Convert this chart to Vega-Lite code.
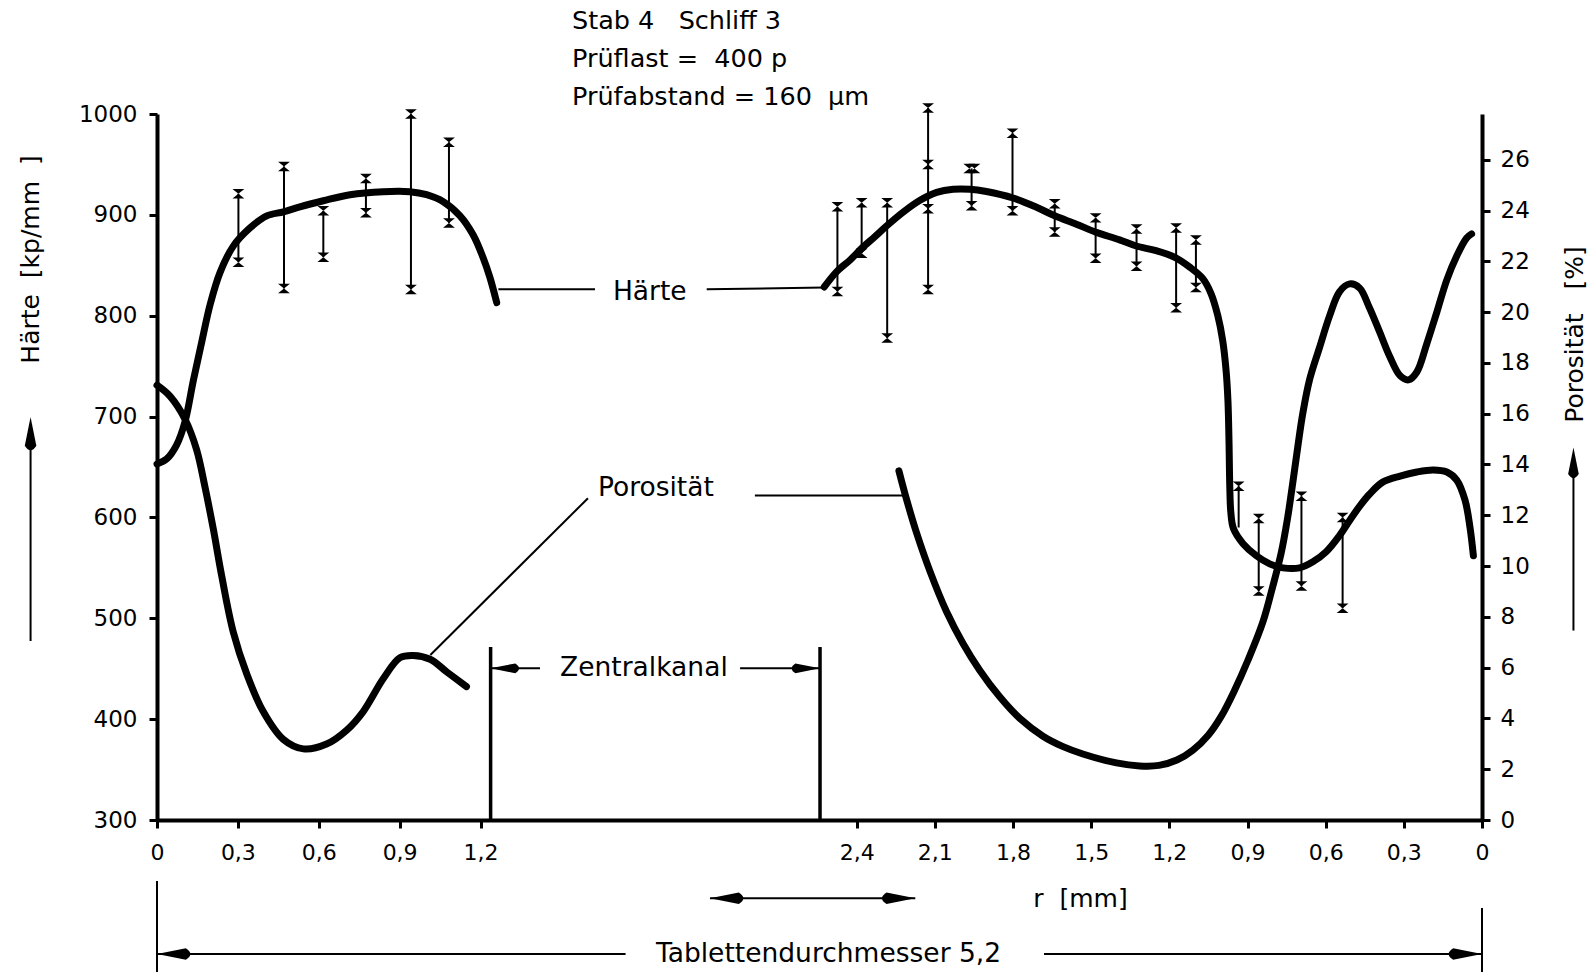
{
  "$schema": "https://vega.github.io/schema/vega-lite/v6.json",
  "width": 1325,
  "height": 706,
  "autosize": "none",
  "padding": {"left": 157, "top": 114, "right": 113, "bottom": 152},
  "background": "white",
  "config": {
    "view": {"stroke": null},
    "font": "DejaVu Sans",
    "text": {"font": "DejaVu Sans", "fontSize": 26, "color": "black"},
    "axis": {
      "grid": false,
      "domainColor": "black",
      "domainWidth": 4,
      "tickColor": "black",
      "tickWidth": 3,
      "tickSize": 8,
      "labelFont": "DejaVu Sans",
      "labelFontSize": 22,
      "labelColor": "black",
      "titleFont": "DejaVu Sans",
      "titleFontSize": 25,
      "titleFontWeight": "normal",
      "titleColor": "black"
    }
  },
  "title": {
    "text": ["Stab 4\u00a0\u00a0\u00a0Schliff 3", "Prüflast =\u00a0\u00a0400 p", "Prüfabstand = 160\u00a0\u00a0µm"],
    "anchor": "start",
    "frame": "group",
    "dx": 415,
    "offset": -7,
    "font": "DejaVu Sans",
    "fontSize": 25.5,
    "fontWeight": "normal",
    "lineHeight": 38,
    "color": "black"
  },
  "datasets": {
    "hcurve": [
      {"seg": "L", "x": 0.0, "H": 653}, {"seg": "L", "x": 0.036, "H": 658}, {"seg": "L", "x": 0.073, "H": 672},
      {"seg": "L", "x": 0.104, "H": 695}, {"seg": "L", "x": 0.135, "H": 736}, {"seg": "L", "x": 0.166, "H": 774},
      {"seg": "L", "x": 0.197, "H": 811}, {"seg": "L", "x": 0.234, "H": 843}, {"seg": "L", "x": 0.283, "H": 869},
      {"seg": "L", "x": 0.345, "H": 887}, {"seg": "L", "x": 0.407, "H": 899}, {"seg": "L", "x": 0.469, "H": 903},
      {"seg": "L", "x": 0.53, "H": 908}, {"seg": "L", "x": 0.617, "H": 914}, {"seg": "L", "x": 0.716, "H": 920},
      {"seg": "L", "x": 0.839, "H": 923}, {"seg": "L", "x": 0.938, "H": 923}, {"seg": "L", "x": 1.0, "H": 920},
      {"seg": "L", "x": 1.062, "H": 913}, {"seg": "L", "x": 1.124, "H": 899}, {"seg": "L", "x": 1.173, "H": 880},
      {"seg": "L", "x": 1.212, "H": 857}, {"seg": "L", "x": 1.24, "H": 838}, {"seg": "L", "x": 1.269, "H": 813},
      {"seg": "R", "x": 2.662, "H": 828.5}, {"seg": "R", "x": 2.715, "H": 843.7}, {"seg": "R", "x": 2.772, "H": 855.3},
      {"seg": "R", "x": 2.819, "H": 866.8}, {"seg": "R", "x": 2.87, "H": 878.4}, {"seg": "R", "x": 2.915, "H": 889},
      {"seg": "R", "x": 2.979, "H": 902.8}, {"seg": "R", "x": 3.043, "H": 914.4}, {"seg": "R", "x": 3.107, "H": 922.3},
      {"seg": "R", "x": 3.17, "H": 925.4}, {"seg": "R", "x": 3.234, "H": 925.4}, {"seg": "R", "x": 3.298, "H": 923.1},
      {"seg": "R", "x": 3.4, "H": 916.7}, {"seg": "R", "x": 3.49, "H": 907.5}, {"seg": "R", "x": 3.56, "H": 899.1},
      {"seg": "R", "x": 3.643, "H": 890.8}, {"seg": "R", "x": 3.716, "H": 883}, {"seg": "R", "x": 3.809, "H": 875.2},
      {"seg": "R", "x": 3.873, "H": 869.1}, {"seg": "R", "x": 3.949, "H": 864.5}, {"seg": "R", "x": 4.023, "H": 857.6},
      {"seg": "R", "x": 4.077, "H": 848.4}, {"seg": "R", "x": 4.128, "H": 837}, {"seg": "R", "x": 4.16, "H": 822},
      {"seg": "R", "x": 4.186, "H": 800}, {"seg": "R", "x": 4.205, "H": 775}, {"seg": "R", "x": 4.218, "H": 745},
      {"seg": "R", "x": 4.225, "H": 715}, {"seg": "R", "x": 4.229, "H": 675}, {"seg": "R", "x": 4.232, "H": 630},
      {"seg": "R", "x": 4.236, "H": 605}, {"seg": "R", "x": 4.246, "H": 589}, {"seg": "R", "x": 4.283, "H": 574},
      {"seg": "R", "x": 4.334, "H": 562}, {"seg": "R", "x": 4.385, "H": 554}, {"seg": "R", "x": 4.436, "H": 550},
      {"seg": "R", "x": 4.5, "H": 550}, {"seg": "R", "x": 4.551, "H": 556}, {"seg": "R", "x": 4.602, "H": 566},
      {"seg": "R", "x": 4.653, "H": 582}, {"seg": "R", "x": 4.692, "H": 597}, {"seg": "R", "x": 4.73, "H": 611},
      {"seg": "R", "x": 4.768, "H": 623}, {"seg": "R", "x": 4.819, "H": 635}, {"seg": "R", "x": 4.886, "H": 641},
      {"seg": "R", "x": 4.95, "H": 645}, {"seg": "R", "x": 5.013, "H": 647}, {"seg": "R", "x": 5.065, "H": 645},
      {"seg": "R", "x": 5.103, "H": 637}, {"seg": "R", "x": 5.135, "H": 617}, {"seg": "R", "x": 5.154, "H": 590},
      {"seg": "R", "x": 5.167, "H": 562}
    ],
    "pcurve": [
      {"seg": "L", "x": 0.0, "P": 17.12}, {"seg": "L", "x": 0.048, "P": 16.69}, {"seg": "L", "x": 0.104, "P": 15.78},
      {"seg": "L", "x": 0.147, "P": 14.58}, {"seg": "L", "x": 0.178, "P": 13.11}, {"seg": "L", "x": 0.209, "P": 11.45},
      {"seg": "L", "x": 0.24, "P": 9.61}, {"seg": "L", "x": 0.283, "P": 7.4}, {"seg": "L", "x": 0.333, "P": 5.75},
      {"seg": "L", "x": 0.394, "P": 4.27}, {"seg": "L", "x": 0.469, "P": 3.17}, {"seg": "L", "x": 0.543, "P": 2.8},
      {"seg": "L", "x": 0.629, "P": 2.99}, {"seg": "L", "x": 0.704, "P": 3.54}, {"seg": "L", "x": 0.765, "P": 4.27},
      {"seg": "L", "x": 0.839, "P": 5.56}, {"seg": "L", "x": 0.901, "P": 6.39}, {"seg": "L", "x": 0.951, "P": 6.48},
      {"seg": "L", "x": 1.013, "P": 6.33}, {"seg": "L", "x": 1.074, "P": 5.84}, {"seg": "L", "x": 1.148, "P": 5.25},
      {"seg": "R", "x": 2.962, "P": 13.75}, {"seg": "R", "x": 2.992, "P": 12.6}, {"seg": "R", "x": 3.03, "P": 11.3},
      {"seg": "R", "x": 3.081, "P": 9.8}, {"seg": "R", "x": 3.145, "P": 8.2}, {"seg": "R", "x": 3.208, "P": 6.95},
      {"seg": "R", "x": 3.272, "P": 5.9}, {"seg": "R", "x": 3.349, "P": 4.85}, {"seg": "R", "x": 3.426, "P": 4.0},
      {"seg": "R", "x": 3.515, "P": 3.3}, {"seg": "R", "x": 3.59, "P": 2.9}, {"seg": "R", "x": 3.668, "P": 2.6},
      {"seg": "R", "x": 3.797, "P": 2.25}, {"seg": "R", "x": 3.886, "P": 2.13}, {"seg": "R", "x": 3.96, "P": 2.15},
      {"seg": "R", "x": 4.029, "P": 2.36}, {"seg": "R", "x": 4.09, "P": 2.75}, {"seg": "R", "x": 4.15, "P": 3.35},
      {"seg": "R", "x": 4.2, "P": 4.1}, {"seg": "R", "x": 4.25, "P": 5.1}, {"seg": "R", "x": 4.302, "P": 6.3},
      {"seg": "R", "x": 4.359, "P": 7.8}, {"seg": "R", "x": 4.397, "P": 9.2}, {"seg": "R", "x": 4.429, "P": 10.5},
      {"seg": "R", "x": 4.454, "P": 11.9}, {"seg": "R", "x": 4.474, "P": 13.3}, {"seg": "R", "x": 4.493, "P": 14.7},
      {"seg": "R", "x": 4.512, "P": 16.0}, {"seg": "R", "x": 4.538, "P": 17.33}, {"seg": "R", "x": 4.576, "P": 18.59},
      {"seg": "R", "x": 4.615, "P": 19.85}, {"seg": "R", "x": 4.653, "P": 20.8}, {"seg": "R", "x": 4.692, "P": 21.11},
      {"seg": "R", "x": 4.73, "P": 20.95}, {"seg": "R", "x": 4.768, "P": 20.17}, {"seg": "R", "x": 4.807, "P": 19.22},
      {"seg": "R", "x": 4.845, "P": 18.27}, {"seg": "R", "x": 4.886, "P": 17.49}, {"seg": "R", "x": 4.918, "P": 17.33},
      {"seg": "R", "x": 4.95, "P": 17.64}, {"seg": "R", "x": 4.988, "P": 18.75}, {"seg": "R", "x": 5.027, "P": 20.01},
      {"seg": "R", "x": 5.065, "P": 21.27}, {"seg": "R", "x": 5.103, "P": 22.21}, {"seg": "R", "x": 5.141, "P": 22.92},
      {"seg": "R", "x": 5.16, "P": 23.08}
    ],
    "bars": [
      {"x": 0.302, "H": 853, "H2": 921}, {"x": 0.471, "H": 827, "H2": 948}, {"x": 0.617, "H": 858, "H2": 904},
      {"x": 0.775, "H": 902, "H2": 936}, {"x": 0.942, "H": 826, "H2": 1000}, {"x": 1.083, "H": 892, "H2": 972},
      {"x": 2.718, "H": 824, "H2": 908}, {"x": 2.819, "H": 862, "H2": 912}, {"x": 2.917, "H": 778, "H2": 912},
      {"x": 3.074, "H": 826, "H2": 1006}, {"x": 3.241, "H": 909, "H2": 946}, {"x": 3.398, "H": 904, "H2": 981},
      {"x": 3.56, "H": 883, "H2": 911}, {"x": 3.717, "H": 857, "H2": 897}, {"x": 3.874, "H": 849, "H2": 886},
      {"x": 4.026, "H": 808, "H2": 887}, {"x": 4.102, "H": 828, "H2": 875}, {"x": 4.266, "H": 590, "H2": 631},
      {"x": 4.343, "H": 527, "H2": 599}, {"x": 4.507, "H": 532, "H2": 621}, {"x": 4.665, "H": 510, "H2": 600}
    ],
    "marks": [
      {"x": 0.302, "H": 853}, {"x": 0.302, "H": 921}, {"x": 0.471, "H": 827}, {"x": 0.471, "H": 948},
      {"x": 0.617, "H": 858}, {"x": 0.617, "H": 904}, {"x": 0.775, "H": 902}, {"x": 0.775, "H": 936},
      {"x": 0.942, "H": 826}, {"x": 0.942, "H": 1000}, {"x": 1.083, "H": 892}, {"x": 1.083, "H": 972},
      {"x": 2.718, "H": 824}, {"x": 2.718, "H": 908}, {"x": 2.819, "H": 862}, {"x": 2.819, "H": 912},
      {"x": 2.917, "H": 778}, {"x": 2.917, "H": 912}, {"x": 3.074, "H": 826}, {"x": 3.074, "H": 906},
      {"x": 3.074, "H": 950}, {"x": 3.074, "H": 1006}, {"x": 3.241, "H": 909}, {"x": 3.232, "H": 946},
      {"x": 3.252, "H": 946}, {"x": 3.398, "H": 904}, {"x": 3.398, "H": 981}, {"x": 3.56, "H": 883},
      {"x": 3.56, "H": 911}, {"x": 3.717, "H": 857}, {"x": 3.717, "H": 897}, {"x": 3.874, "H": 849},
      {"x": 3.874, "H": 886}, {"x": 4.026, "H": 808}, {"x": 4.026, "H": 887}, {"x": 4.102, "H": 828},
      {"x": 4.102, "H": 875}, {"x": 4.266, "H": 631}, {"x": 4.343, "H": 527}, {"x": 4.343, "H": 599},
      {"x": 4.507, "H": 532}, {"x": 4.507, "H": 621}, {"x": 4.665, "H": 510}, {"x": 4.665, "H": 600}
    ],
    "hrules": [
      {"x": 1.276, "x2": 1.687, "H": 826.2, "H2": 826.2},
      {"x": 2.162, "x2": 2.662, "H": 826.2, "H2": 828},
      {"x": 1.243, "x2": 1.453, "H": 450.4, "H2": 450.4},
      {"x": 2.304, "x2": 2.644, "H": 450.4, "H2": 450.4},
      {"x": 2.176, "x2": 3.025, "H": 222.5, "H2": 222.5},
      {"x": 0.0, "x2": 1.817, "H": 167.1, "H2": 167.1},
      {"x": 3.519, "x2": 5.2, "H": 167.1, "H2": 167.1},
      {"x": 0.0, "x2": 0.0, "H": 239.5, "H2": 149.3},
      {"x": 5.2, "x2": 5.2, "H": 212.8, "H2": 149.3},
      {"x": -0.469, "x2": -0.469, "H": 477.5, "H2": 690}
    ],
    "canal": [
      {"x": 1.243, "x2": 1.243, "H": 300, "H2": 471.5},
      {"x": 2.644, "x2": 2.644, "H": 300, "H2": 471.5}
    ],
    "harrows": [
      {"x": 0.0, "H": 167.1, "dir": "L"}, {"x": 5.2, "H": 167.1, "dir": "R"},
      {"x": 2.176, "H": 222.5, "dir": "L"}, {"x": 3.025, "H": 222.5, "dir": "R"},
      {"x": -0.469, "H": 699.6, "dir": "U"}
    ],
    "karrows": [
      {"x": 1.243, "H": 450.4, "dir": "L"}, {"x": 2.644, "H": 450.4, "dir": "R"}
    ],
    "hlabels": [
      {"x": 1.92, "H": 824, "t": "Härte"},
      {"x": 1.895, "H": 450.4, "t": "Zentralkanal"},
      {"x": 2.68, "H": 167.1, "t": "Tablettendurchmesser 5,2"}
    ],
    "prules": [
      {"x": 1.014, "x2": 1.657, "P": 6.5, "P2": 12.67},
      {"x": 2.367, "x2": 2.985, "P": 12.78, "P2": 12.78},
      {"x": 5.551, "x2": 5.551, "P": 7.46, "P2": 14.2}
    ],
    "parrows": [
      {"x": 5.551, "P": 14.67, "dir": "U"}
    ],
    "plabels": [
      {"x": 1.946, "P": 13.06, "t": "Porosität"}
    ]
  },
  "encoding": {
    "x": {
      "field": "x",
      "type": "quantitative",
      "scale": {"domain": [0, 1.2, 2.8, 5.2], "range": [0, 323.5, 699.7, 1325], "nice": false, "zero": false},
      "axis": {
        "values": [0, 0.3, 0.6, 0.9, 1.2, 2.8, 3.1, 3.4, 3.7, 4.0, 4.3, 4.6, 4.9, 5.2],
        "labelExpr": "datum.value < 2 ? (datum.value == 0 ? '0' : replace(format(datum.value, '.1f'), '.', ',')) : (abs(5.2 - datum.value) < 0.01 ? '0' : replace(format(5.2 - datum.value, '.1f'), '.', ','))",
        "labelOverlap": false,
        "labelFlush": false,
        "labelBound": false,
        "labelPadding": 14,
        "title": "r\u00a0\u00a0[mm]",
        "titleX": 923,
        "titleY": 78,
        "titleAlign": "center",
        "titleBaseline": "middle"
      }
    }
  },
  "layer": [
    {
      "encoding": {
        "y": {
          "field": "H",
          "type": "quantitative",
          "scale": {"domain": [300, 1000], "nice": false, "zero": false},
          "axis": {
            "orient": "left",
            "values": [300, 400, 500, 600, 700, 800, 900, 1000],
            "format": "d",
            "labelFontSize": 23,
            "labelPadding": 12,
            "title": "Härte\u00a0\u00a0[kp/mm\u00a0\u00a0]",
            "titleX": -126.5,
            "titleY": 145,
            "titleAngle": 270,
            "titleAlign": "center",
            "titleBaseline": "middle"
          }
        }
      },
      "layer": [
        {
          "data": {"name": "hcurve"},
          "mark": {"type": "line", "color": "black", "strokeWidth": 7, "strokeCap": "round", "strokeJoin": "round", "interpolate": "catmull-rom"},
          "encoding": {"detail": {"field": "seg"}}
        },
        {
          "data": {"name": "bars"},
          "mark": {"type": "rule", "color": "black", "strokeWidth": 2},
          "encoding": {"y2": {"field": "H2"}}
        },
        {
          "data": {"name": "marks"},
          "mark": {"type": "point", "shape": "M-1,-0.8L1,-0.8L-1,0.8L1,0.8Z", "filled": true, "color": "black", "size": 140, "opacity": 1},
          "encoding": {}
        },
        {
          "data": {"name": "hrules"},
          "mark": {"type": "rule", "color": "black", "strokeWidth": 2},
          "encoding": {"x2": {"field": "x2"}, "y2": {"field": "H2"}}
        },
        {
          "data": {"name": "canal"},
          "mark": {"type": "rule", "color": "black", "strokeWidth": 3.5},
          "encoding": {"x2": {"field": "x2"}, "y2": {"field": "H2"}}
        },
        {
          "data": {"name": "harrows"},
          "mark": {"type": "point", "filled": true, "color": "black", "size": 1300, "opacity": 1, "strokeWidth": 0},
          "encoding": {
            "shape": {
              "field": "dir",
              "type": "nominal",
              "scale": {"domain": ["L", "R", "U"], "range": ["M0,0L1.6,-0.32Q2.1,0 1.6,0.32Z", "M0,0L-1.6,-0.32Q-2.1,0 -1.6,0.32Z", "M0,0L-0.32,1.6Q0,2.1 0.32,1.6Z"]},
              "legend": null
            }
          }
        },
        {
          "data": {"name": "karrows"},
          "mark": {"type": "point", "filled": true, "color": "black", "size": 950, "opacity": 1, "strokeWidth": 0},
          "encoding": {
            "shape": {
              "field": "dir",
              "type": "nominal",
              "scale": {"domain": ["L", "R", "U"], "range": ["M0,0L1.6,-0.32Q2.1,0 1.6,0.32Z", "M0,0L-1.6,-0.32Q-2.1,0 -1.6,0.32Z", "M0,0L-0.32,1.6Q0,2.1 0.32,1.6Z"]},
              "legend": null
            }
          }
        },
        {
          "data": {"name": "hlabels"},
          "mark": {"type": "text", "align": "center", "baseline": "middle", "fontSize": 26.5, "color": "black"},
          "encoding": {"text": {"field": "t"}}
        }
      ]
    },
    {
      "encoding": {
        "y": {
          "field": "P",
          "type": "quantitative",
          "scale": {"domain": [0, 27.8], "nice": false, "zero": false},
          "axis": {
            "orient": "right",
            "values": [0, 2, 4, 6, 8, 10, 12, 14, 16, 18, 20, 22, 24, 26],
            "labelFontSize": 23,
            "labelPadding": 10,
            "title": "Porosität\u00a0\u00a0\u00a0[%]",
            "titleX": 92.6,
            "titleY": 220,
            "titleAngle": 270,
            "titleAlign": "center",
            "titleBaseline": "middle"
          }
        }
      },
      "layer": [
        {
          "data": {"name": "pcurve"},
          "mark": {"type": "line", "color": "black", "strokeWidth": 7, "strokeCap": "round", "strokeJoin": "round", "interpolate": "catmull-rom"},
          "encoding": {"detail": {"field": "seg"}}
        },
        {
          "data": {"name": "prules"},
          "mark": {"type": "rule", "color": "black", "strokeWidth": 2},
          "encoding": {"x2": {"field": "x2"}, "y2": {"field": "P2"}}
        },
        {
          "data": {"name": "parrows"},
          "mark": {"type": "point", "filled": true, "color": "black", "size": 1100, "opacity": 1, "strokeWidth": 0},
          "encoding": {
            "shape": {
              "field": "dir",
              "type": "nominal",
              "scale": {"domain": ["L", "R", "U"], "range": ["M0,0L1.6,-0.32Q2.1,0 1.6,0.32Z", "M0,0L-1.6,-0.32Q-2.1,0 -1.6,0.32Z", "M0,0L-0.32,1.6Q0,2.1 0.32,1.6Z"]},
              "legend": null
            }
          }
        },
        {
          "data": {"name": "plabels"},
          "mark": {"type": "text", "align": "center", "baseline": "middle", "fontSize": 26.5, "color": "black"},
          "encoding": {"text": {"field": "t"}}
        }
      ]
    }
  ],
  "resolve": {"scale": {"y": "independent", "shape": "independent"}, "axis": {"y": "independent"}}
}
